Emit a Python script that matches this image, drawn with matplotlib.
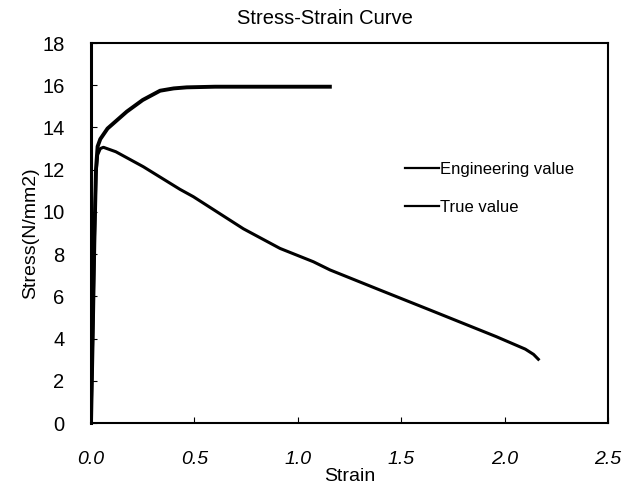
import matplotlib
matplotlib.use("Agg")
import matplotlib.pyplot as plt

plt.rcParams["font.family"] = ["Liberation Sans", "DejaVu Sans"]

# Lower curve (peak ~13, falls to ~3 at strain 2.16)
eng_strain = [0.0, 0.008, 0.016, 0.024, 0.032, 0.045, 0.06, 0.12, 0.253, 0.43, 0.495,
              0.737, 0.914, 1.075, 1.156, 1.397, 1.64, 1.96, 2.10, 2.14, 2.163]
eng_stress = [0.0, 4.0, 8.5, 11.8, 12.7, 13.0, 13.06, 12.85, 12.14, 11.07, 10.72,
              9.2, 8.27, 7.64, 7.25, 6.30, 5.35, 4.09, 3.5, 3.25, 3.02]

# Upper curve (rises to ~15.9 and stays flat until ~1.155)
true_strain = [0.0, 0.008, 0.016, 0.024, 0.032, 0.045, 0.08, 0.173, 0.25, 0.334,
               0.4, 0.463, 0.6, 0.9, 1.155]
true_stress = [0.0, 4.0, 8.5, 12.0, 13.1, 13.45, 13.95, 14.75, 15.3, 15.74,
               15.85, 15.9, 15.93, 15.93, 15.93]

fig = plt.figure(figsize=(6.35, 4.86), dpi=100)
ax = fig.add_axes([0.1433, 0.1296, 0.8142, 0.7819])

ax.plot(eng_strain, eng_stress, color="black", lw=2.2, label="Engineering value")
ax.plot(true_strain, true_stress, color="black", lw=2.8, label="True value")

ax.set_xlim(0, 2.5)
ax.set_ylim(0, 18)
ax.set_xticks([0.0, 0.5, 1.0, 1.5, 2.0, 2.5])
ax.set_xticklabels(["0.0", "0.5", "1.0", "1.5", "2.0", "2.5"], fontstyle="italic")
ax.set_yticks(range(0, 19, 2))
ax.tick_params(axis="x", direction="in", length=4, pad=20, labelsize=14)
ax.tick_params(axis="y", direction="in", length=4, pad=19, labelsize=14.5)
for side, s in ax.spines.items():
    s.set_linewidth(2.2 if side == "left" else 1.5)

fig.text(0.512, 0.961, "Stress-Strain Curve", fontsize=14.5, ha="center", va="center")
ax.set_xlabel("Strain", fontsize=14, labelpad=0)
ax.set_ylabel("Stress(N/mm2)", fontsize=14, labelpad=2)

leg = ax.legend(loc="upper left", bbox_to_anchor=(0.592, 0.71), frameon=False,
                borderpad=0, fontsize=12, handlelength=2.0, handletextpad=0.05,
                labelspacing=1.4)
for line in leg.get_lines():
    line.set_linewidth(1.6)

fig.savefig("out.png", dpi=100)
